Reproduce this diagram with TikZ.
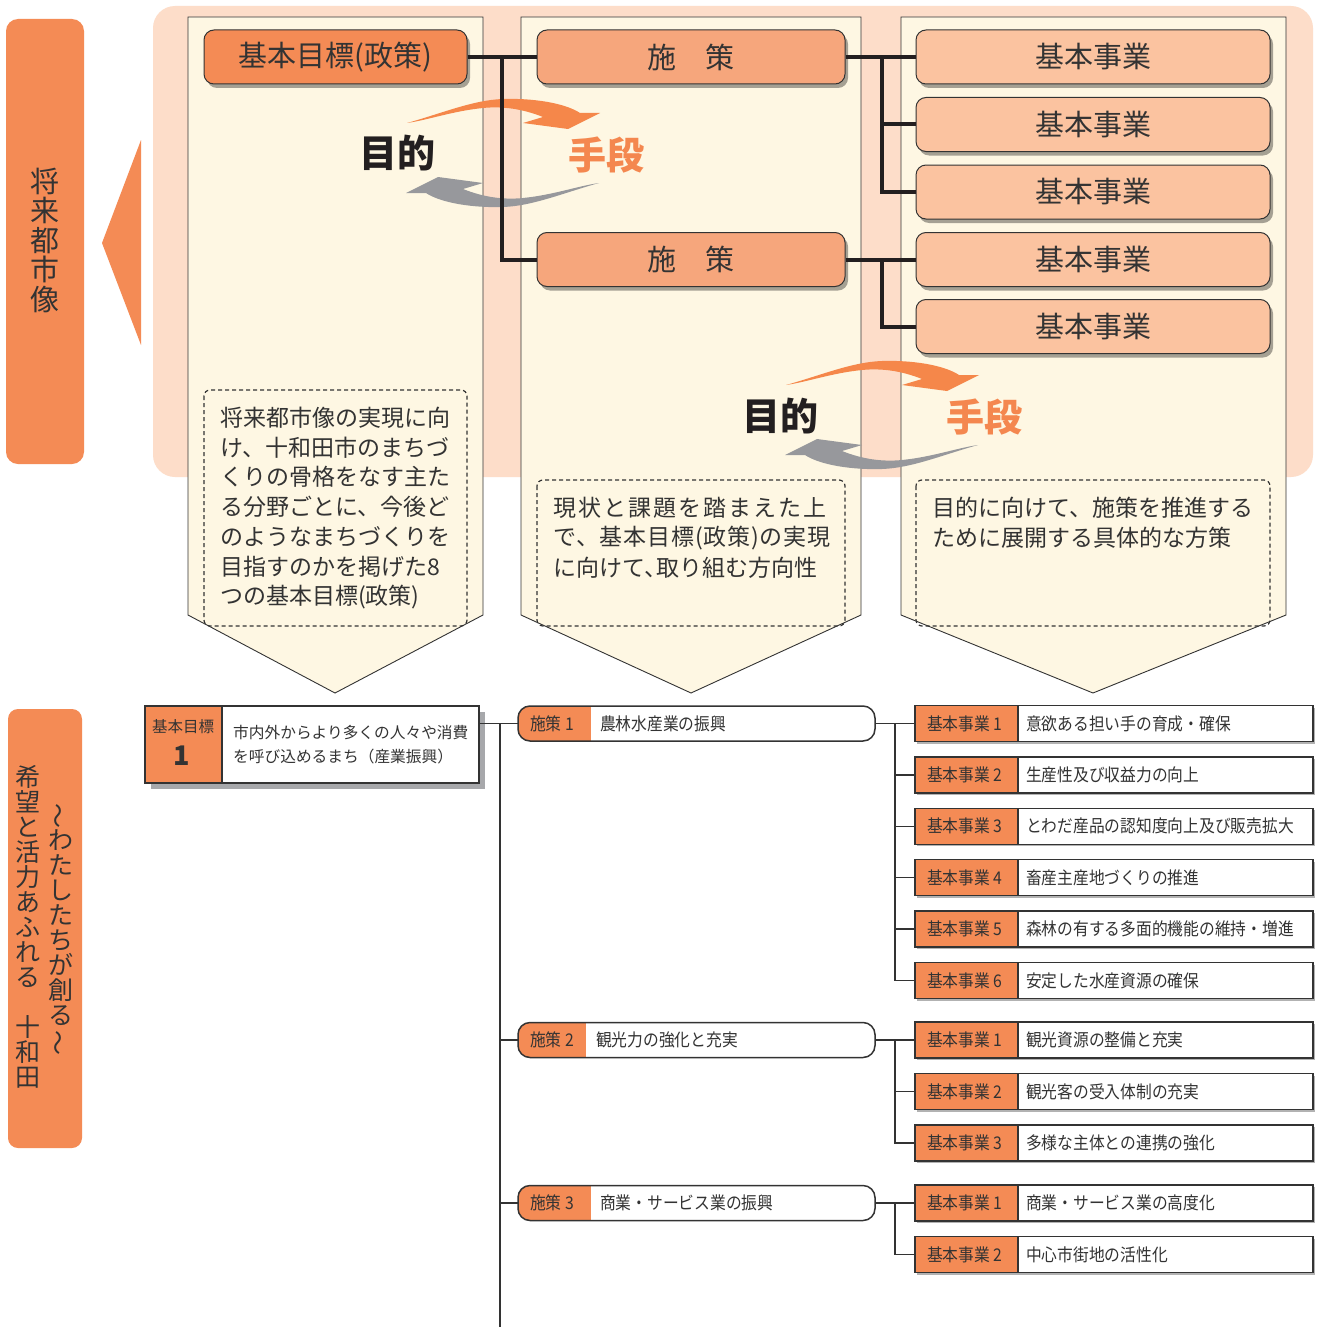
\documentclass[tikz,border=0pt]{standalone}
\usepackage{fontspec}
\usepackage{graphicx}
\setmainfont{Noto Sans CJK JP}
\newfontfamily\jpc[FakeStretch=0.9]{Noto Sans CJK JP}
\newfontfamily\jpsp[LetterSpace=8.7]{Noto Sans CJK JP}
\newfontfamily\jpspb[LetterSpace=3.5]{Noto Sans CJK JP}
\usetikzlibrary{shadows}
\definecolor{orangeA}{HTML}{F48B55}
\definecolor{orangeB}{HTML}{F6A67C}
\definecolor{orangeC}{HTML}{FBC3A0}
\definecolor{peach}{HTML}{FDDDC9}
\definecolor{cream}{HTML}{FEF7E3}
\definecolor{arrO}{HTML}{F5874A}
\definecolor{arrG}{HTML}{97989C}
\definecolor{handan}{HTML}{F4874F}
\definecolor{darktext}{HTML}{333333}
\definecolor{darkline}{HTML}{333333}
\definecolor{connblack}{HTML}{231F20}
\definecolor{shadowgray}{HTML}{A7A8AB}
\begin{document}
\begin{tikzpicture}[x=1pt,y=-1pt,
  lbl/.style={inner sep=0pt, text=darktext},
  topbox/.style={draw=darkline, line width=1pt, rounded corners=10pt, minimum height=54pt, inner sep=0pt,
     drop shadow={shadow xshift=3pt, shadow yshift=-4pt, opacity=0.35, fill=black},
     font=\fontsize{29}{29}\selectfont, text=darktext},
  conn/.style={line width=4pt, draw=connblack},
  tline/.style={line width=1.5pt, draw=darkline},
  dashbox/.style={draw=darkline, line width=1.2pt, dash pattern=on 4pt off 3pt, rounded corners=6pt},
  col/.style={draw=darkline, line width=0.9pt, fill=cream},
  dtext/.style={inner sep=0pt, anchor=west, text=darktext, font=\fontsize{23}{23}\selectfont},
  rowbox/.style={draw=darkline, line width=1.3pt, fill=white, minimum width=398pt, minimum height=36pt, inner sep=0pt,
     drop shadow={shadow xshift=2pt, shadow yshift=-2pt, opacity=1, fill=black!30}},
  cfont/.style={font=\jpc\fontsize{17.5}{17.5}\selectfont},
  cyc/.pic={
    \fill[arrO] (-96,-30) .. controls (-60,-40) and (-30,-53) .. (0,-54) .. controls (30,-55) and (62,-50) .. (77,-40) -- (97,-40) -- (65,-24) -- (20,-30) -- (40,-36) .. controls (20,-44) and (0,-47) .. (-20,-45) .. controls (-50,-42) and (-75,-33) .. cycle;
    \fill[arrG, rotate=180] (-96,-30) .. controls (-60,-40) and (-30,-53) .. (0,-54) .. controls (30,-55) and (62,-50) .. (77,-40) -- (97,-40) -- (65,-24) -- (20,-30) -- (40,-36) .. controls (20,-44) and (0,-47) .. (-20,-45) .. controls (-50,-42) and (-75,-33) .. cycle;
  }
]
\useasboundingbox (0,0) rectangle (1321,1327);
\fill[white] (0,0) rectangle (1321,1327);

% ---------- upper part ----------
\fill[peach, rounded corners=22pt] (153,6) rectangle (1313,477);
\node[fill=orangeA, rounded corners=12pt, minimum width=78pt, minimum height=445pt, inner sep=0pt] (vis) at (45,241.5) {};
\node[lbl, anchor=north, align=center, font=\fontsize{29}{29.4}\selectfont] (vistext) at (45,168) {将\\来\\都\\市\\像};
\fill[orangeA] (141,140) -- (102,243) -- (141,345) -- cycle;

\draw[col] (188,17) -- (483,17) -- (483,615) -- (335,693) -- (188,615) -- cycle;
\draw[col] (521,17) -- (861,17) -- (861,615) -- (691,693) -- (521,615) -- cycle;
\draw[col] (901,17) -- (1286,17) -- (1286,615) -- (1093,693) -- (901,615) -- cycle;

\draw[dashbox] (204,390) rectangle (467,626);
\draw[dashbox] (537,480) rectangle (845,626);
\draw[dashbox] (916,480) rectangle (1270,626);

\node[dtext] (d1) at (220,418) {将来都市像の実現に向};
\node[dtext] (d2) at (220,448) {け、十和田市のまちづ};
\node[dtext] (d3) at (220,477) {くりの骨格をなす主た};
\node[dtext] (d4) at (220,507) {る分野ごとに、今後ど};
\node[dtext] (d5) at (220,537) {のようなまちづくりを};
\node[dtext] (d6) at (220,567) {目指すのかを掲げた8};
\node[dtext] (d7) at (220,597) {つの基本目標(政策)};
\node[dtext, font=\jpsp\fontsize{23}{23}\selectfont] (e1) at (553,508) {現状と課題を踏まえた上};
\node[dtext, font=\jpspb\fontsize{23}{23}\selectfont] (e2) at (553,538) {で、基本目標(政策)の実現};
\node[dtext] (e3) at (553,568) {に向けて、\hspace{-0.45em}取り組む方向性};
\node[dtext] (f1) at (932,508) {目的に向けて、施策を推進する};
\node[dtext] (f2) at (932,538) {ために展開する具体的な方策};

\pic at (503,153) {cyc};
\pic at (882,415) {cyc};
\node[inner sep=0pt, text=connblack, font=\bfseries\fontsize{38}{38}\selectfont] (m1) at (397,153) {目的};
\node[inner sep=0pt, text=handan, font=\bfseries\fontsize{38}{38}\selectfont] (h1) at (606,155) {手段};
\node[inner sep=0pt, text=connblack, font=\bfseries\fontsize{38}{38}\selectfont] (m2) at (780,416) {目的};
\node[inner sep=0pt, text=handan, font=\bfseries\fontsize{38}{38}\selectfont] (h2) at (984,417) {手段};

\node[topbox, fill=orangeA, minimum width=263pt] (goal) at (335.5,57) {基本目標(政策)};
\node[topbox, fill=orangeB, minimum width=308pt] (p1) at (691,57) {施\hspace{1em}策};
\node[topbox, fill=orangeB, minimum width=308pt] (p2) at (691,259.5) {施\hspace{1em}策};
\node[topbox, fill=orangeC, minimum width=354pt] (b1) at (1093,57) {基本事業};
\node[topbox, fill=orangeC, minimum width=354pt] (b2) at (1093,124.5) {基本事業};
\node[topbox, fill=orangeC, minimum width=354pt] (b3) at (1093,192) {基本事業};
\node[topbox, fill=orangeC, minimum width=354pt] (b4) at (1093,259.5) {基本事業};
\node[topbox, fill=orangeC, minimum width=354pt] (b5) at (1093,326.5) {基本事業};

\coordinate (j1) at (502,57);
\coordinate (j2) at (882,57);
\coordinate (j3) at (882,259.5);
\draw[conn] (goal.east) -- (p1.west);
\draw[conn] (j1) |- (p2.west);
\draw[conn] (p1.east) -- (b1.west);
\draw[conn] (j2) |- (b2.west);
\draw[conn] (j2) |- (b3.west);
\draw[conn] (p2.east) -- (b4.west);
\draw[conn] (j3) |- (b5.west);

% ---------- lower part ----------
\node[fill=orangeA, rounded corners=10pt, minimum width=74pt, minimum height=439pt, inner sep=0pt] (vis2) at (45,928.5) {};
\node[lbl, anchor=north, align=center, font=\fontsize{25}{25}\selectfont] (v2a) at (28,765) {希\\望\\と\\活\\力\\あ\\ふ\\れ\\る\\\phantom{十}\\十\\和\\田};
\node[lbl, anchor=north, align=center, font=\fontsize{25}{25}\selectfont] (v2b) at (61,803) {\rotatebox[origin=c]{90}{～}\\わ\\た\\し\\た\\ち\\が\\創\\る\\\rotatebox[origin=c]{90}{～}};

\node[draw=darkline, line width=2.5pt, fill=white, minimum width=334pt, minimum height=77pt, inner sep=0pt,
  drop shadow={shadow xshift=6pt, shadow yshift=-6pt, opacity=1, fill=shadowgray}] (g1) at (312,744.5) {};
\fill[orangeA] (146.25,707.25) rectangle (222,781.75);
\draw[darkline, line width=1.5pt] (222,706) -- (222,783);
\node[lbl, font=\fontsize{15.5}{15.5}\selectfont] (g1a) at (183,727) {基本目標};
\node[lbl, font=\bfseries\fontsize{27}{27}\selectfont] (g1b) at (182,756) {1};
\node[lbl, anchor=west, font=\fontsize{15.7}{15.7}\selectfont] (g1c) at (233,733) {市内外からより多くの人々や消費};
\node[lbl, anchor=west, font=\fontsize{15.7}{15.7}\selectfont] (g1d) at (233,757) {を呼び込めるまち（産業振興）};

\foreach \n/\y/\cw/\lab/\lx/\txt in {1/723.5/591/1/600/農林水産業の振興, 2/1040/586/2/596/観光力の強化と充実, 3/1203/591/3/600/商業・サービス業の振興}{
  \node[inner sep=0pt, minimum width=357pt, minimum height=35pt] (s\n) at (696.5,\y) {};
  \fill[white, rounded corners=12pt] (518,\y-17.5) rectangle (875,\y+17.5);
  \begin{scope}
    \clip[rounded corners=12pt] (518,\y-17.5) rectangle (875,\y+17.5);
    \fill[orangeA] (518,\y-17.5) rectangle (\cw,\y+17.5);
  \end{scope}
  \draw[darkline, line width=1.5pt, rounded corners=12pt] (518,\y-17.5) rectangle (875,\y+17.5);
  \node[lbl, anchor=west, cfont] (sl\n) at (530,\y) {施策\hspace{4pt}\lab};
  \node[lbl, anchor=west, cfont] (st\n) at (\lx,\y) {\txt};
}

\foreach \n/\y/\lab/\txt in {11/723.5/1/意欲ある担い手の育成・確保, 12/774.9/2/生産性及び収益力の向上, 13/826.3/3/とわだ産品の認知度向上及び販売拡大, 14/877.7/4/畜産主産地づくりの推進, 15/929.1/5/森林の有する多面的機能の維持・増進, 16/980.5/6/安定した水産資源の確保, 21/1040/1/観光資源の整備と充実, 22/1091.5/2/観光客の受入体制の充実, 23/1143/3/多様な主体との連携の強化, 31/1203/1/商業・サービス業の高度化, 32/1254.5/2/中心市街地の活性化}{
  \node[rowbox] (r\n) at (1114,\y) {};
  \fill[orangeA] (915.65,\y-17.35) rectangle (1018,\y+17.35);
  \draw[darkline, line width=1.3pt] (1018,\y-18) -- (1018,\y+18);
  \node[lbl, anchor=west, cfont] (rl\n) at (927,\y) {基本事業\hspace{3pt}\lab};
  \node[lbl, anchor=west, cfont] (rt\n) at (1026,\y) {\txt};
}

\coordinate (tr0) at (500,723.5);
\coordinate (tr1) at (500,1327);
\draw[tline] (tr0) -- (tr1);
\draw[tline] (g1.east |- s1.west) -- (s1.west);
\draw[tline] (tr0 |- s2.west) -- (s2.west);
\draw[tline] (tr0 |- s3.west) -- (s3.west);

\coordinate (k1) at (895,723.5);
\coordinate (k2) at (895,1040);
\coordinate (k3) at (895,1203);
\draw[tline] (s1.east) -- (r11.west);
\foreach \i in {12,...,16} { \draw[tline] (k1) |- (r\i.west); }
\draw[tline] (s2.east) -- (r21.west);
\foreach \i in {22,23} { \draw[tline] (k2) |- (r\i.west); }
\draw[tline] (s3.east) -- (r31.west);
\draw[tline] (k3) |- (r32.west);
\end{tikzpicture}
\end{document}
